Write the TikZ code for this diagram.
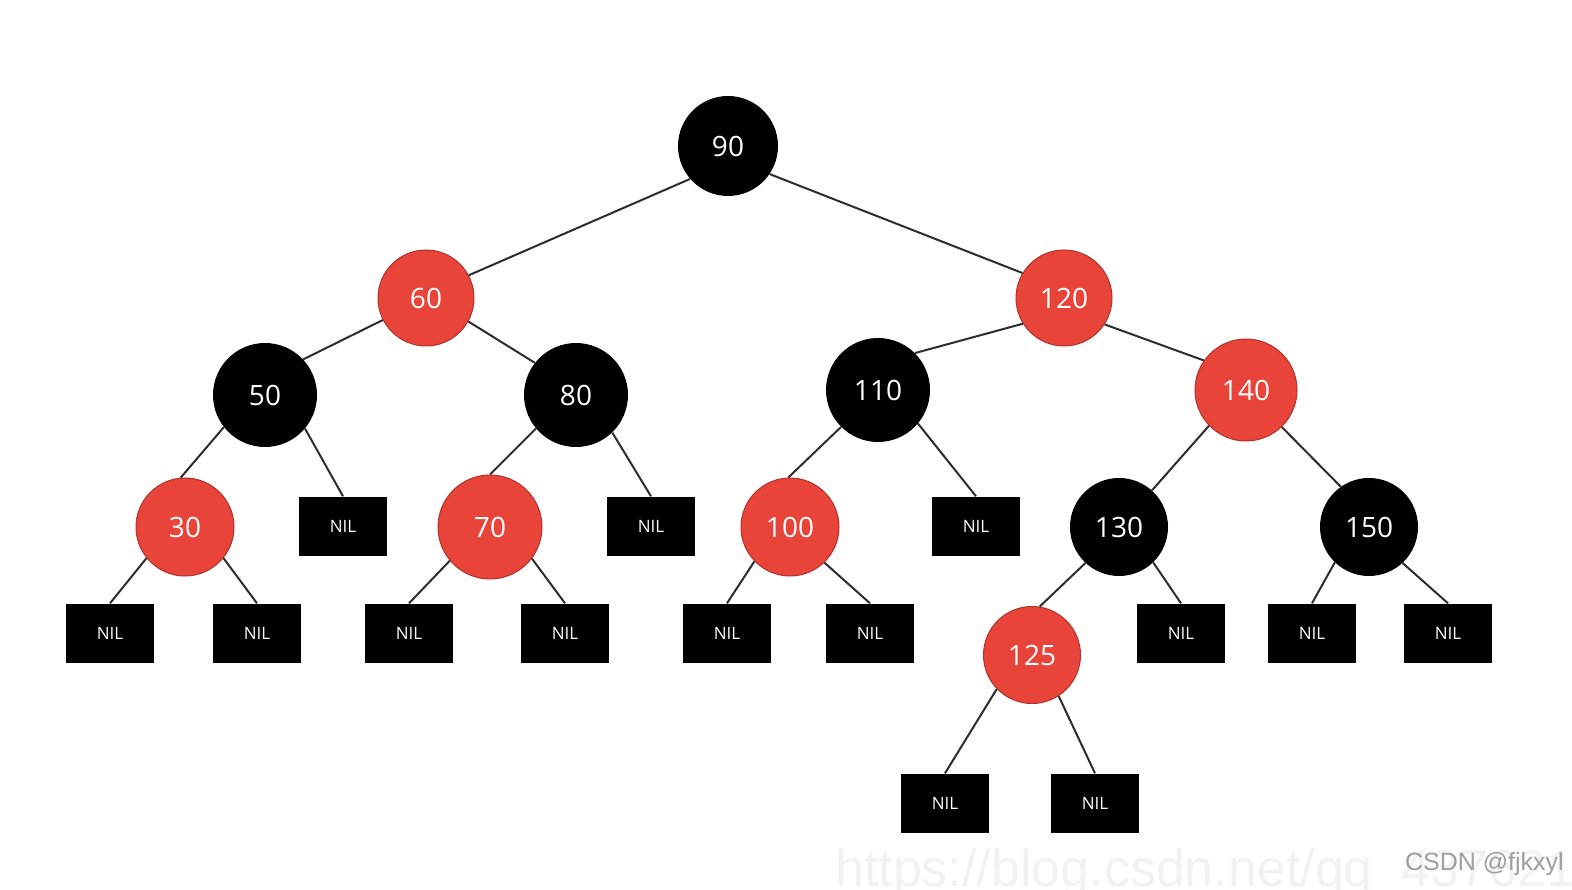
\documentclass[tikz,border=0pt]{standalone}
\usepackage{fontspec}
\setmainfont{Open Sans}
\newfontfamily\wmfont{Liberation Sans}
\definecolor{rbred}{RGB}{232,68,58}
\definecolor{edgegray}{RGB}{45,45,45}
\begin{document}
\begin{tikzpicture}[x=1pt,y=-1pt,
  rn/.style={circle, draw=rbred!75!black, line width=1pt, fill=rbred, text=white, inner sep=0pt, font=\fontsize{28}{30}\selectfont},
  bn/.style={circle, fill=black, text=white, inner sep=0pt, font=\fontsize{28}{30}\selectfont},
  nil/.style={rectangle, fill=black, text=white, minimum width=88pt, minimum height=59pt, inner sep=0pt, font=\fontsize{17}{18}\selectfont},
  edge/.style={draw=edgegray, line width=2pt}]
\useasboundingbox (0,0) rectangle (1572,890);
\fill[white] (0,0) rectangle (1572,890);
% watermark
\node[anchor=base west, inner sep=0pt, text=black!5, font=\wmfont\fontsize{52}{56}\selectfont] (wm) at (835,886) {https://blog.csdn.net/qq\_43762191};
\node[anchor=base east, inner sep=0pt, text=black!38, font=\wmfont\fontsize{25}{28}\selectfont] (csdn) at (1564,870) {CSDN @fjkxyl};
% nodes
\node[bn, minimum size=100pt] (n90) at (728,146) {90};
\node[rn, minimum size=96pt] (n60) at (426,298) {60};
\node[rn, minimum size=96pt] (n120) at (1064,298) {120};
\node[bn, minimum size=104pt] (n50) at (265,395) {50};
\node[bn, minimum size=104pt] (n80) at (576,395) {80};
\node[bn, minimum size=104pt] (n110) at (878,390) {110};
\node[rn, minimum size=102pt] (n140) at (1246,390) {140};
\node[rn, minimum size=98pt] (n30) at (185,527) {30};
\node[nil] (x50) at (343,526) {NIL};
\node[rn, minimum size=104pt] (n70) at (490,527) {70};
\node[nil] (x80) at (651,526) {NIL};
\node[rn, minimum size=98pt] (n100) at (790,527) {100};
\node[nil] (x110) at (976,526) {NIL};
\node[bn, minimum size=98pt] (n130) at (1119,527) {130};
\node[bn, minimum size=98pt] (n150) at (1369,527) {150};
\node[nil] (x30a) at (110,633) {NIL};
\node[nil] (x30b) at (257,633) {NIL};
\node[nil] (x70a) at (409,633) {NIL};
\node[nil] (x70b) at (565,633) {NIL};
\node[nil] (x100a) at (727,633) {NIL};
\node[nil] (x100b) at (870,633) {NIL};
\node[rn, minimum size=97pt] (n125) at (1032,655) {125};
\node[nil] (x130) at (1181,633) {NIL};
\node[nil] (x150a) at (1312,633) {NIL};
\node[nil] (x150b) at (1448,633) {NIL};
\node[nil] (x125a) at (945,803) {NIL};
\node[nil] (x125b) at (1095,803) {NIL};
% edges
\draw[edge] (n90.221) -- (n60.28);
\draw[edge] (n90.-34) -- (n120.149);
\draw[edge] (n60.207) -- (n50.43);
\draw[edge] (n60.-29) -- (n80.142);
\draw[edge] (n120.212) -- (n110.45);
\draw[edge] (n120.-33) -- (n140.145);
\draw[edge] (n50.218) -- (n30.95);
\draw[edge] (n50.-40) -- (x50.north);
\draw[edge] (n80.220) -- (n70.90);
\draw[edge] (n80.-46) -- (x80.north);
\draw[edge] (n110.225) -- (n100.92);
\draw[edge] (n110.-40) -- (x110.north);
\draw[edge] (n140.224) -- (n130.48);
\draw[edge] (n140.-46) -- (n150.125);
\draw[edge] (n30.219) -- (x30a.north);
\draw[edge] (n30.-39) -- (x30b.north);
\draw[edge] (n70.220) -- (x70a.north);
\draw[edge] (n70.-37) -- (x70b.north);
\draw[edge] (n100.224) -- (x100a.north);
\draw[edge] (n100.-46) -- (x100b.north);
\draw[edge] (n130.227) -- (n125.81);
\draw[edge] (n130.-46) -- (x130.north);
\draw[edge] (n150.226) -- (x150a.north);
\draw[edge] (n150.-47) -- (x150b.north);
\draw[edge] (n125.224) -- (x125a.north);
\draw[edge] (n125.-57) -- (x125b.north);
\end{tikzpicture}
\end{document}
